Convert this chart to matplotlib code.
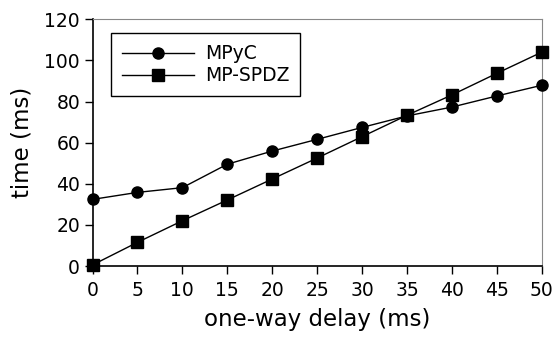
import matplotlib
matplotlib.use('Agg')
import matplotlib.pyplot as plt

plt.rcParams['font.family'] = 'DejaVu Sans'

delay = [0, 5, 10, 15, 20, 25, 30, 35, 40, 45, 50]
mpyc = [32.4, 35.8, 38.1, 49.5, 55.9, 61.6, 67.4, 73.0, 77.3, 82.7, 87.9]
mpspdz = [0.5, 11.5, 22.0, 32.1, 42.3, 52.5, 62.9, 73.3, 83.2, 93.7, 104.0]

fig = plt.figure(figsize=(5.53, 3.41), dpi=100)
ax = fig.add_axes([92.5 / 553, 1 - 266 / 341, (541.7 - 92.5) / 553, (266 - 19.3) / 341])

ax.plot(delay, mpyc, color='black', lw=1, marker='o', ms=8, label='MPyC', clip_on=False, zorder=3)
ax.plot(delay, mpspdz, color='black', lw=1, marker='s', ms=8, label='MP-SPDZ', clip_on=False, zorder=3)

ax.set_xlim(0, 50)
ax.set_ylim(0, 120)
ax.set_xticks(range(0, 51, 5))
ax.set_yticks(range(0, 121, 20))
ax.tick_params(labelsize=13.5, direction='out', length=5.5, width=1, top=False, right=False)
ax.tick_params(axis='x', pad=5)
ax.set_xlabel('one-way delay (ms)', fontsize=16.5, labelpad=6)
ax.set_ylabel('time (ms)', fontsize=16.5, labelpad=8)

for s in ['top', 'right']:
    ax.spines[s].set_color('#888888')
for s in ['left', 'bottom']:
    ax.spines[s].set_color('black')
    ax.spines[s].set_linewidth(1.2)

leg = ax.legend(loc='upper left', bbox_to_anchor=(0.041, 0.944), borderaxespad=0,
                fontsize=13.5, fancybox=False, framealpha=1, edgecolor='black',
                handlelength=3.85, handletextpad=0.55, borderpad=0.6, labelspacing=0.15)
leg.get_frame().set_linewidth(1)

fig.savefig('out.png', dpi=100)
